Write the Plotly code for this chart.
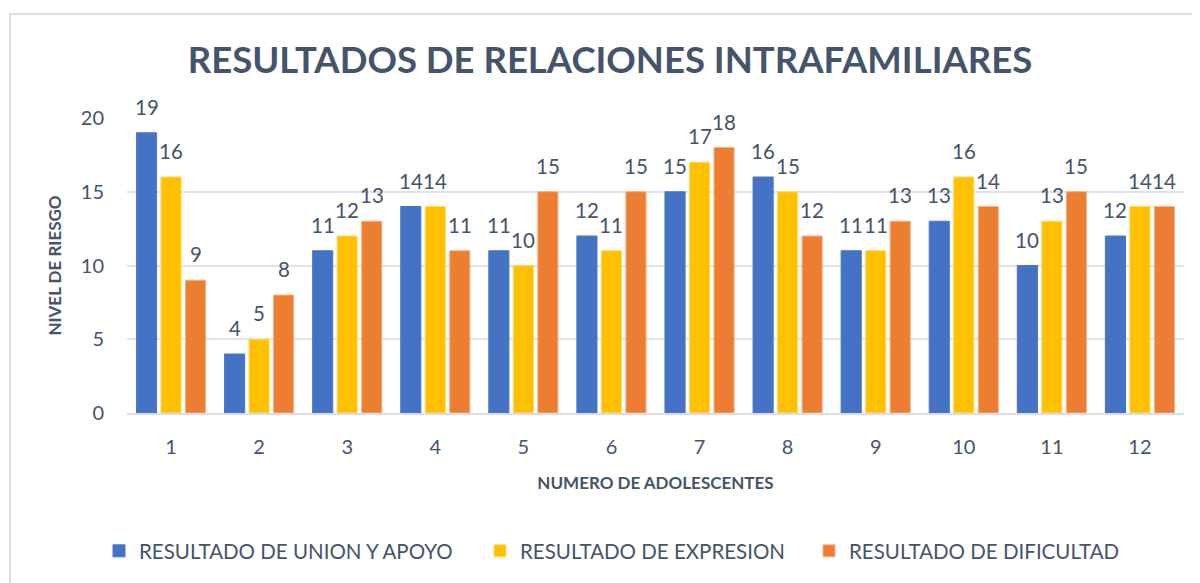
import plotly.graph_objects as go

categories = ["1", "2", "3", "4", "5", "6", "7", "8", "9", "10", "11", "12"]
union_apoyo = [19, 4, 11, 14, 11, 12, 15, 16, 11, 13, 10, 12]
expresion = [16, 5, 12, 14, 10, 11, 17, 15, 11, 16, 13, 14]
dificultad = [9, 8, 13, 11, 15, 15, 18, 12, 13, 14, 15, 14]

series_names = ["RESULTADO DE UNION Y APOYO", "RESULTADO DE EXPRESION", "RESULTADO DE DIFICULTAD"]
series_values = [union_apoyo, expresion, dificultad]
colors = ["#4472C4", "#FFC000", "#ED7D31"]
line_colors = ["#4A76C6", "#FFD966", "#F4B183"]
legend_square_x = [116, 497, 826]  # reference pixel x of each legend entry's square

TXT = "#44546A"
FONT = "Lato"

# page is offset by the 8px body margin: work in figure coordinates
OFF = 8
W, H = 1192, 575
L, T = 127 - OFF, 118 - OFF
plot_right, plot_bottom = 1184 - OFF, 413 - OFF
R, B = W - plot_right, H - plot_bottom
pw, ph = plot_right - L, plot_bottom - T

BARGAP, BARGROUPGAP = 0.165, 0.18

def px(x):
    return (x - OFF - L) / pw

def py(y):
    return (plot_bottom - (y - OFF)) / ph

legend_ids = ["legend", "legend2", "legend3"]

fig = go.Figure()
for name, vals, c, lc, lid in zip(series_names, series_values, colors, line_colors, legend_ids):
    fig.add_trace(go.Bar(
        x=categories, y=vals, name=name, legend=lid, showlegend=True,
        marker=dict(color=c, line=dict(color=lc, width=1)),
    ))

slot = (pw / len(categories)) * (1 - BARGAP) / len(series_values)
annotations = []
for i, vals in enumerate(series_values):
    for k, v in enumerate(vals):
        annotations.append(dict(
            x=k, y=v, xref="x", yref="y", text=str(v), showarrow=False,
            xshift=(i - 1) * slot, yshift=26, yanchor="middle", xanchor="center",
            font=dict(size=20.5, color=TXT, family=FONT),
        ))

legend_common = dict(orientation="h", xref="container", yref="container",
                     yanchor="middle", y=1 - (551 - OFF) / H, xanchor="left",
                     font=dict(size=20.5, color=TXT, family=FONT), itemwidth=30,
                     bgcolor="rgba(0,0,0,0)")
legends = {}
for lid, sx in zip(legend_ids, legend_square_x):
    legends[lid] = dict(legend_common, x=(sx - 17 - OFF) / W)

fig.update_layout(
    width=W, height=H,
    margin=dict(l=L, r=R, t=T, b=B),
    paper_bgcolor="white", plot_bgcolor="white",
    font=dict(family=FONT, color=TXT),
    showlegend=True,
    barmode="group", bargap=BARGAP, bargroupgap=BARGROUPGAP,
    title=dict(text="<b>RESULTADOS DE RELACIONES INTRAFAMILIARES</b>",
               x=(610 - OFF) / W, xanchor="center", y=1 - (60 - OFF) / H, yanchor="middle",
               font=dict(size=36.5, color=TXT, family=FONT)),
    xaxis=dict(type="category",
               title=dict(text="<b>NUMERO DE ADOLESCENTES</b>", font=dict(size=17, color=TXT), standoff=20),
               tickfont=dict(size=20, color=TXT), showgrid=False,
               showline=True, linecolor="#D9DDE3", linewidth=2, ticks="", ticklabelstandoff=15),
    yaxis=dict(title=dict(text="<b>NIVEL DE RIESGO</b>", font=dict(size=17, color=TXT), standoff=14),
               range=[0, 20], dtick=5, tickfont=dict(size=20, color=TXT),
               showgrid=True, gridcolor="#DFE3E8", gridwidth=2, zeroline=False,
               ticks="", ticklabelstandoff=22),
    annotations=annotations,
    shapes=[dict(type="rect", xref="paper", yref="paper",
                 x0=px(10), x1=px(1215), y0=py(600), y1=py(14),
                 line=dict(color="#D9DDE3", width=2), fillcolor="rgba(0,0,0,0)", layer="below")],
    **legends,
)

fig.write_html("out.html")
